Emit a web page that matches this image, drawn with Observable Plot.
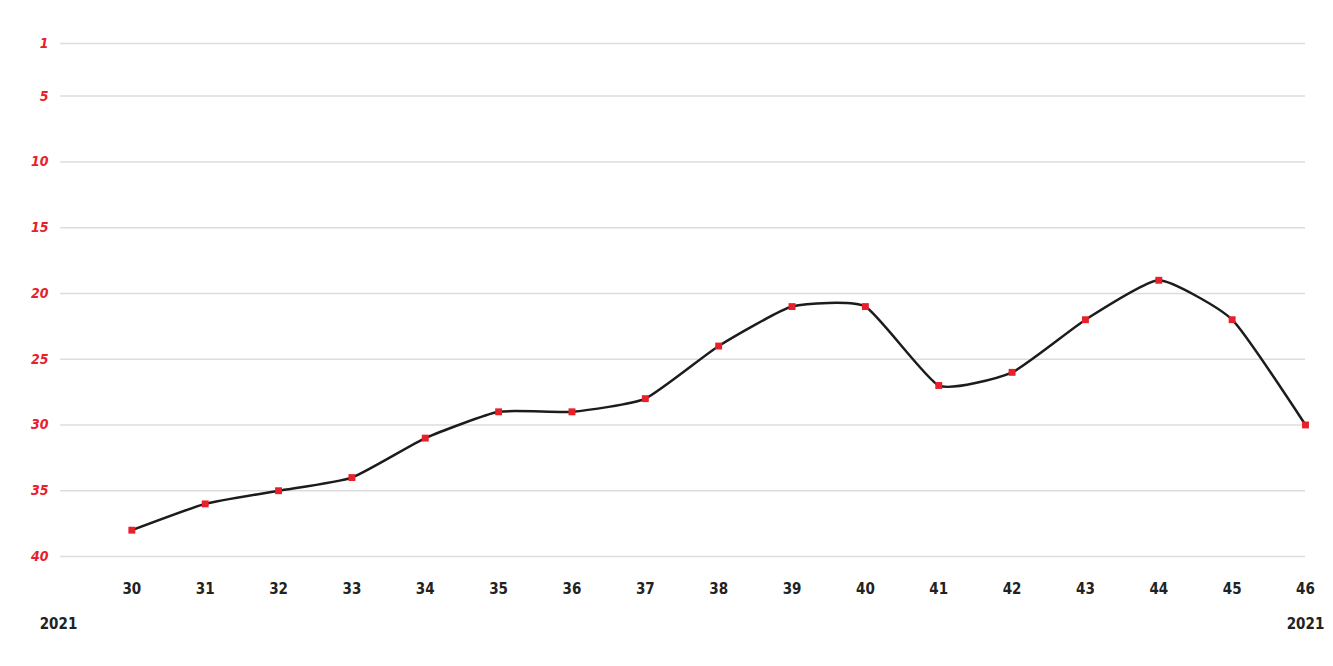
<!DOCTYPE html>
<html>
<head>
<meta charset="utf-8">
<script src="https://cdn.jsdelivr.net/npm/d3@7"></script>
<script src="https://cdn.jsdelivr.net/npm/@observablehq/plot@0.6"></script>
<style>
  html, body { margin: 0; padding: 0; background: #fff; }
  #chart svg { display: block; }
  #chart svg text { font-stretch: condensed; }
</style>
</head>
<body>
<div id="chart"></div>
<script>
const weeks = [30, 31, 32, 33, 34, 35, 36, 37, 38, 39, 40, 41, 42, 43, 44, 45, 46];
const ranks = [38, 36, 35, 34, 31, 29, 29, 28, 24, 21, 21, 27, 26, 22, 19, 22, 30];
const yTicks = [1, 5, 10, 15, 20, 25, 30, 35, 40];
const yearLabels = [{week: 29, label: "2021"}, {week: 46, label: "2021"}];

const data = weeks.map((w, i) => ({week: w, rank: ranks[i]}));
const font = "'DejaVu Sans', sans-serif";

const chart = Plot.plot({
  width: 1333,
  height: 666,
  marginTop: 43,
  marginBottom: 110,
  marginLeft: 58,
  marginRight: 28,
  style: {fontFamily: font, background: "#fff"},
  x: {domain: [29, 46]},
  y: {domain: [1, 40], reverse: true},
  marks: [
    Plot.ruleY(yTicks, {y: d => d, x1: 29.03, x2: 46, stroke: "#dcdcdc", strokeWidth: 1.5}),
    Plot.axisY({ticks: yTicks, tickSize: 0, tickPadding: 10, fontSize: 14, fontWeight: "bold", fontStyle: "italic", fill: "#e8202a", label: null}),
    Plot.axisX({ticks: weeks, tickSize: 0, tickPadding: 27, fontSize: 15, fontWeight: "bold", fill: "#222", label: null, tickFormat: d => String(d)}),
    Plot.text(yearLabels, {x: "week", text: "label", frameAnchor: "bottom", dy: 72, fontSize: 15, fontWeight: "bold", fill: "#222", textAnchor: "middle"}),
    Plot.line(data, {x: "week", y: "rank", curve: "cardinal", tension: 0.5, stroke: "#1c1c1c", strokeWidth: 2.5}),
    Plot.dot(data, {x: "week", y: "rank", symbol: "square", r: 3.9, fill: "#e8202a", stroke: "none"})
  ]
});
document.getElementById("chart").appendChild(chart);
</script>
</body>
</html>
